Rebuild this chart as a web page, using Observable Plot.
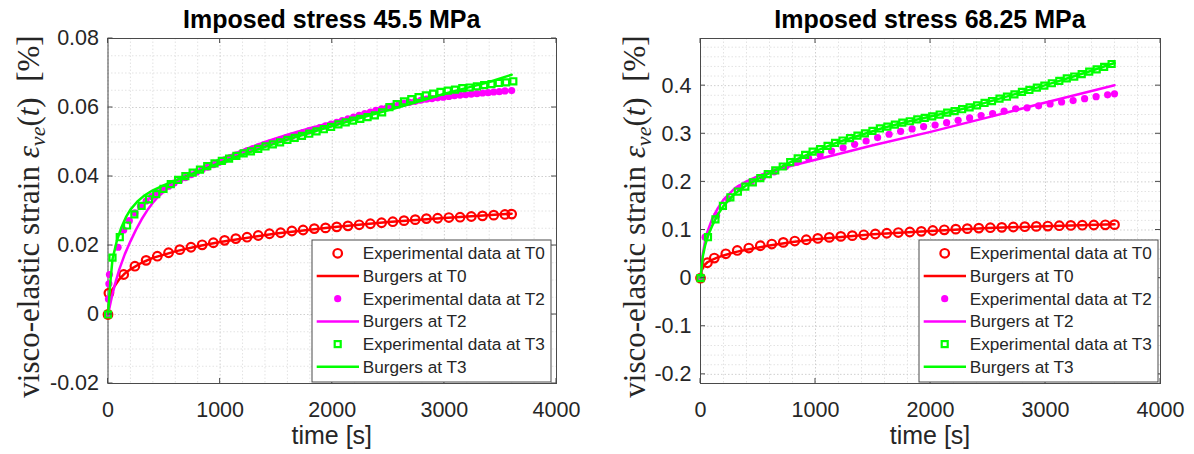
<!DOCTYPE html>
<html><head><meta charset="utf-8">
<script src="https://cdn.jsdelivr.net/npm/d3@7"></script>
<script src="https://cdn.jsdelivr.net/npm/@observablehq/plot@0.6"></script>
<style>
body{margin:0;background:#fff;}
#wrap{display:flex;width:1194px;height:454px;overflow:hidden;}
</style></head><body><div id="wrap"></div>
<script>
// ---------- shared ticks / labels ----------
const xTicks = [0, 1000, 2000, 3000, 4000];
const xTickLabels = ["0", "1000", "2000", "3000", "4000"];
const xMinorTicks = [200, 400, 600, 800, 1200, 1400, 1600, 1800, 2200, 2400, 2600, 2800, 3200, 3400, 3600, 3800];
const xLabel = "time [s]";
const yLabelMain = "visco-elastic strain ";
const legendLabels = ["Experimental data at T0", "Burgers at T0", "Experimental data at T2", "Burgers at T2", "Experimental data at T3", "Burgers at T3"];

// ---------- left panel: 45.5 MPa ----------
const leftTitle = "Imposed stress 45.5 MPa";
const leftYTicks = [-0.02, 0, 0.02, 0.04, 0.06, 0.08];
const leftYTickLabels = ["-0.02", "0", "0.02", "0.04", "0.06", "0.08"];
const leftYMinorTicks = [-0.015, -0.01, -0.005, 0.005, 0.01, 0.015, 0.025, 0.03, 0.035, 0.045, 0.05, 0.055, 0.065, 0.07, 0.075];

const leftT0ExpTime = [0, 8, 140, 240, 340, 440, 540, 640, 740, 840, 940, 1040, 1140, 1240, 1340, 1440, 1540, 1640, 1740, 1840, 1940, 2040, 2140, 2240, 2340, 2440, 2540, 2640, 2740, 2840, 2940, 3040, 3140, 3240, 3340, 3440, 3540, 3600];
const leftT0ExpStrain = [0, 0.0062, 0.0116, 0.0140, 0.0157, 0.0169, 0.0179, 0.0188, 0.0195, 0.0202, 0.0208, 0.0215, 0.0220, 0.0224, 0.0229, 0.0234, 0.0237, 0.0242, 0.0245, 0.0249, 0.0251, 0.0254, 0.0257, 0.0260, 0.0263, 0.0266, 0.0269, 0.0272, 0.0275, 0.0278, 0.0279, 0.0281, 0.0282, 0.0284, 0.0286, 0.0288, 0.0290, 0.0291];
const leftT0BurgersTime = [0, 20, 50, 100, 150, 200, 300, 400, 600, 800, 1000, 1500, 2000, 2500, 3000, 3600];
const leftT0BurgersStrain = [0, 0.0055, 0.0078, 0.0102, 0.0119, 0.0131, 0.0150, 0.0164, 0.0183, 0.0198, 0.0210, 0.0235, 0.0253, 0.0268, 0.0280, 0.0292];

const leftT2ExpTime = [0, 4, 8, 13, 90, 140, 190, 240, 290, 340, 390, 440, 490, 540, 590, 640, 690, 740, 790, 840, 890, 940, 990, 1040, 1090, 1140, 1190, 1240, 1290, 1340, 1390, 1440, 1490, 1540, 1590, 1640, 1690, 1740, 1790, 1840, 1890, 1940, 1990, 2040, 2090, 2140, 2190, 2240, 2290, 2340, 2390, 2440, 2490, 2540, 2590, 2640, 2690, 2740, 2790, 2840, 2890, 2940, 2990, 3040, 3090, 3140, 3190, 3240, 3290, 3340, 3390, 3440, 3490, 3540, 3600];
const leftT2ExpStrain = [0, 0.0045, 0.0089, 0.0116, 0.0195, 0.0245, 0.0272, 0.0295, 0.0314, 0.0329, 0.0342, 0.0353, 0.0363, 0.0372, 0.0381, 0.0389, 0.0397, 0.0405, 0.0413, 0.0420, 0.0427, 0.0434, 0.0441, 0.0448, 0.0455, 0.0462, 0.0468, 0.0474, 0.0480, 0.0486, 0.0492, 0.0497, 0.0502, 0.0507, 0.0512, 0.0517, 0.0522, 0.0527, 0.0532, 0.0537, 0.0542, 0.0547, 0.0552, 0.0557, 0.0562, 0.0567, 0.0572, 0.0577, 0.0582, 0.0587, 0.0592, 0.0596, 0.0600, 0.0604, 0.0608, 0.0612, 0.0615, 0.0618, 0.0621, 0.0624, 0.0626, 0.0628, 0.0630, 0.0632, 0.0634, 0.0636, 0.0637, 0.0639, 0.0640, 0.0642, 0.0643, 0.0645, 0.0646, 0.0648, 0.0649];
const leftT2BurgersTime = [0, 30, 60, 100, 150, 200, 250, 300, 350, 400, 450, 500, 600, 800, 1000, 1200, 1400, 1600, 1800, 2000, 2200, 2400, 2600, 2800, 3000, 3200, 3400, 3600];
const leftT2BurgersStrain = [0, 0.0045, 0.0085, 0.0130, 0.0175, 0.0212, 0.0246, 0.0276, 0.0302, 0.0324, 0.0342, 0.0357, 0.0382, 0.0418, 0.0449, 0.0476, 0.0500, 0.0521, 0.0540, 0.0557, 0.0574, 0.0590, 0.0604, 0.0617, 0.0628, 0.0636, 0.0643, 0.0650];

const leftT3ExpTime = [0, 40, 105, 170, 235, 300, 365, 430, 495, 560, 625, 690, 755, 820, 885, 950, 1015, 1080, 1145, 1210, 1275, 1340, 1405, 1470, 1535, 1600, 1665, 1730, 1795, 1860, 1925, 1990, 2055, 2120, 2185, 2250, 2315, 2380, 2445, 2510, 2575, 2640, 2705, 2770, 2835, 2900, 2965, 3030, 3095, 3160, 3225, 3290, 3355, 3420, 3485, 3550, 3615];
const leftT3ExpStrain = [0, 0.0165, 0.0224, 0.0258, 0.0290, 0.0315, 0.0334, 0.0349, 0.0364, 0.0378, 0.0390, 0.0401, 0.0411, 0.0420, 0.0430, 0.0438, 0.0445, 0.0452, 0.0460, 0.0467, 0.0473, 0.0480, 0.0487, 0.0493, 0.0499, 0.0506, 0.0512, 0.0518, 0.0524, 0.0531, 0.0537, 0.0544, 0.0551, 0.0557, 0.0562, 0.0567, 0.0572, 0.0577, 0.0586, 0.0601, 0.0610, 0.0618, 0.0624, 0.0630, 0.0635, 0.0640, 0.0645, 0.0649, 0.0652, 0.0656, 0.0658, 0.0661, 0.0665, 0.0668, 0.0671, 0.0673, 0.0676];
const leftT3BurgersTime = [0, 20, 40, 80, 120, 160, 200, 260, 320, 400, 500, 600, 800, 1000, 1200, 1400, 1600, 1800, 2000, 2200, 2400, 2600, 2800, 3000, 3200, 3400, 3600];
const leftT3BurgersStrain = [0, 0.0090, 0.0160, 0.0215, 0.0253, 0.0282, 0.0304, 0.0327, 0.0344, 0.0360, 0.0375, 0.0388, 0.0414, 0.0440, 0.0463, 0.0486, 0.0507, 0.0527, 0.0546, 0.0565, 0.0583, 0.0601, 0.0620, 0.0640, 0.0657, 0.0674, 0.0695];

// ---------- right panel: 68.25 MPa ----------
const rightTitle = "Imposed stress 68.25 MPa";
const rightYTicks = [-0.2, -0.1, 0, 0.1, 0.2, 0.3, 0.4];
const rightYTickLabels = ["-0.2", "-0.1", "0", "0.1", "0.2", "0.3", "0.4"];
const rightYMinorTicks = [-0.18, -0.16, -0.14, -0.12, -0.08, -0.06, -0.04, -0.02, 0.02, 0.04, 0.06, 0.08, 0.12, 0.14, 0.16, 0.18, 0.22, 0.24, 0.26, 0.28, 0.32, 0.34, 0.36, 0.38, 0.42, 0.44, 0.46, 0.48];

const rightT0ExpTime = [0, 60, 120, 220, 320, 420, 520, 620, 720, 820, 920, 1020, 1120, 1220, 1320, 1420, 1520, 1620, 1720, 1820, 1920, 2020, 2120, 2220, 2320, 2420, 2520, 2620, 2720, 2820, 2920, 3020, 3120, 3220, 3320, 3420, 3520, 3600];
const rightT0ExpStrain = [0, 0.032, 0.0417, 0.0506, 0.0575, 0.0625, 0.0673, 0.0708, 0.0742, 0.0771, 0.0798, 0.0825, 0.0846, 0.0867, 0.0883, 0.0900, 0.0917, 0.0933, 0.0947, 0.0959, 0.0972, 0.0990, 0.1004, 0.1018, 0.1028, 0.1040, 0.1048, 0.1055, 0.1062, 0.1069, 0.1075, 0.1082, 0.1089, 0.1095, 0.1100, 0.1104, 0.1108, 0.1111];
const rightT0BurgersTime = [0, 10, 30, 60, 100, 150, 200, 300, 400, 600, 800, 1000, 1500, 2000, 2500, 3000, 3600];
const rightT0BurgersStrain = [0, 0.016, 0.026, 0.033, 0.038, 0.043, 0.047, 0.054, 0.059, 0.068, 0.075, 0.081, 0.091, 0.098, 0.104, 0.108, 0.112];

const rightT2ExpTime = [0, 40, 140, 240, 340, 440, 540, 640, 740, 840, 940, 1040, 1140, 1240, 1340, 1440, 1540, 1640, 1740, 1840, 1940, 2040, 2140, 2240, 2340, 2440, 2540, 2640, 2740, 2840, 2940, 3040, 3140, 3240, 3340, 3440, 3540, 3600];
const rightT2ExpStrain = [0, 0.085, 0.130, 0.165, 0.187, 0.200, 0.210, 0.221, 0.232, 0.241, 0.249, 0.256, 0.264, 0.271, 0.278, 0.285, 0.292, 0.299, 0.305, 0.310, 0.315, 0.318, 0.323, 0.328, 0.333, 0.338, 0.342, 0.347, 0.352, 0.354, 0.358, 0.362, 0.366, 0.369, 0.373, 0.377, 0.381, 0.383];
const rightT2BurgersTime = [0, 20, 50, 100, 150, 200, 300, 400, 500, 600, 800, 1000, 1200, 1500, 2000, 2500, 3000, 3600];
const rightT2BurgersStrain = [0, 0.050, 0.090, 0.122, 0.145, 0.163, 0.187, 0.201, 0.212, 0.221, 0.234, 0.246, 0.258, 0.276, 0.304, 0.334, 0.365, 0.401];

const rightT3ExpTime = [0, 65, 130, 195, 260, 325, 390, 455, 520, 585, 650, 715, 780, 845, 910, 975, 1040, 1105, 1170, 1235, 1300, 1365, 1430, 1495, 1560, 1625, 1690, 1755, 1820, 1885, 1950, 2015, 2080, 2145, 2210, 2275, 2340, 2405, 2470, 2535, 2600, 2665, 2730, 2795, 2860, 2925, 2990, 3055, 3120, 3185, 3250, 3315, 3380, 3445, 3510, 3575];
const rightT3ExpStrain = [0, 0.085, 0.122, 0.150, 0.168, 0.180, 0.190, 0.199, 0.208, 0.216, 0.224, 0.232, 0.241, 0.249, 0.256, 0.263, 0.268, 0.275, 0.281, 0.286, 0.291, 0.296, 0.301, 0.306, 0.311, 0.315, 0.319, 0.323, 0.326, 0.330, 0.333, 0.336, 0.340, 0.344, 0.347, 0.351, 0.355, 0.359, 0.364, 0.368, 0.373, 0.377, 0.382, 0.387, 0.391, 0.396, 0.400, 0.405, 0.410, 0.415, 0.419, 0.424, 0.429, 0.434, 0.439, 0.445];
const rightT3BurgersTime = [0, 20, 40, 65, 100, 150, 200, 300, 400, 500, 600, 800, 1000, 1200, 1400, 1600, 1800, 2000, 2200, 2400, 2600, 2800, 3000, 3200, 3400, 3600];
const rightT3BurgersStrain = [0, 0.045, 0.068, 0.088, 0.108, 0.132, 0.150, 0.176, 0.193, 0.206, 0.218, 0.243, 0.264, 0.283, 0.298, 0.313, 0.325, 0.336, 0.347, 0.359, 0.373, 0.387, 0.401, 0.416, 0.431, 0.447];

// ---------- styling ----------
const RED = "#ff0000", MAG = "#ff00ff", GRN = "#00ff00";
const TXT = "#262626";
const SANS = "'Liberation Sans', Arial, Helvetica, sans-serif";
const SERIF = "'Liberation Serif', 'Times New Roman', serif";
const R_CIRCLE = 4.3, R_DOT = 3.6, R_SQUARE = 3.4, SQ = 6;

const rows = (t, v) => t.map((d, i) => ({t: d, v: v[i]}));

function panel(cfg) {
  const W = cfg.width, H = 454, mt = 38, mb = 71;
  const xMap = new Map(xTicks.map((d, i) => [d, xTickLabels[i]]));
  const yMap = new Map(cfg.yTicks.map((d, i) => [d, cfg.yTickLabels[i]]));
  const grid = {strokeOpacity: 1, strokeDasharray: "1.5,2", strokeWidth: 1};
  const chart = Plot.plot({
    width: W, height: H,
    marginLeft: cfg.ml, marginRight: cfg.mr, marginTop: mt, marginBottom: mb,
    style: {fontFamily: SANS, fontSize: "21.5px", background: "#fff", overflow: "visible"},
    x: {domain: [0, 4000]},
    y: {domain: cfg.yDomain},
    marks: [
      Plot.gridX(xMinorTicks, {...grid, stroke: "#e3e3e3"}),
      Plot.gridY(cfg.yMinor, {...grid, stroke: "#e3e3e3"}),
      Plot.gridX(xTicks, {...grid, stroke: "#cfcfcf"}),
      Plot.gridY(cfg.yTicks, {...grid, stroke: "#cfcfcf"}),
      Plot.frame({stroke: "#4a4a4a", strokeWidth: 1}),
      Plot.axisX(xTicks, {tickSize: 0, tickPadding: 18, tickFormat: d => xMap.get(d), label: null, color: TXT, fontSize: 21.5}),
      Plot.axisY(cfg.yTicks, {tickSize: 0, tickPadding: 9, tickFormat: d => yMap.get(d), label: null, color: TXT, fontSize: 21.5}),
      Plot.dot(rows(cfg.t0e[0], cfg.t0e[1]), {x: "t", y: "v", r: R_CIRCLE, stroke: RED, strokeWidth: 2.2, fill: "none"}),
      Plot.line(rows(cfg.t0b[0], cfg.t0b[1]), {x: "t", y: "v", stroke: RED, strokeWidth: 2.5}),
      Plot.dot(rows(cfg.t2e[0], cfg.t2e[1]), {x: "t", y: "v", r: R_DOT, fill: MAG, stroke: "none"}),
      Plot.line(rows(cfg.t2b[0], cfg.t2b[1]), {x: "t", y: "v", stroke: MAG, strokeWidth: 2.5}),
      Plot.dot(rows(cfg.t3e[0], cfg.t3e[1]), {x: "t", y: "v", symbol: "square", r: R_SQUARE, stroke: GRN, strokeWidth: 2.2, fill: "none"}),
      Plot.line(rows(cfg.t3b[0], cfg.t3b[1]), {x: "t", y: "v", stroke: GRN, strokeWidth: 2.5})
    ]
  });
  const svg = d3.select(chart);
  const sx = chart.scale("x"), sy = chart.scale("y");
  const L = cfg.ml, R = W - cfg.mr, T = mt, B = H - mb;
  const tk = svg.append("g").attr("stroke", "#4a4a4a").attr("stroke-width", 1);
  xTicks.forEach(v => {
    const x = sx.apply(v);
    tk.append("line").attr("x1", x).attr("x2", x).attr("y1", B).attr("y2", B - 5);
    tk.append("line").attr("x1", x).attr("x2", x).attr("y1", T).attr("y2", T + 5);
  });
  cfg.yTicks.forEach(v => {
    const y = sy.apply(v);
    tk.append("line").attr("x1", L).attr("x2", L + 5).attr("y1", y).attr("y2", y);
    tk.append("line").attr("x1", R).attr("x2", R - 5).attr("y1", y).attr("y2", y);
  });
  // title
  svg.append("text").attr("x", (L + R) / 2).attr("y", 28).attr("text-anchor", "middle")
    .style("font-family", SANS).style("font-size", "25px").style("font-weight", "bold").attr("fill", "#000")
    .text(cfg.title);
  // x label
  svg.append("text").attr("x", (L + R) / 2).attr("y", 444).attr("text-anchor", "middle")
    .style("font-family", SANS).style("font-size", "25px").attr("fill", TXT).text(xLabel);
  // y label
  const yl = svg.append("text").attr("transform", `translate(${cfg.ylx},${(T + B) / 2 + 6}) rotate(-90)`)
    .attr("text-anchor", "middle").style("font-family", SERIF).style("font-size", "31px").attr("fill", TXT);
  yl.append("tspan").text(yLabelMain);
  yl.append("tspan").style("font-style", "italic").text("\u03B5");
  yl.append("tspan").style("font-style", "italic").style("font-size", "22px").attr("dy", 6).text("ve");
  yl.append("tspan").attr("dy", -6).text("(");
  yl.append("tspan").style("font-style", "italic").text("t");
  yl.append("tspan").text(")\u2002[%]");
  // legend
  const lg = svg.append("g").attr("transform", `translate(${cfg.lgx},${cfg.lgy})`);
  lg.append("rect").attr("width", 239).attr("height", 142).attr("fill", "#fff").attr("stroke", "#4a4a4a").attr("stroke-width", 1);
  const kinds = [["circle", RED], ["line", RED], ["dot", MAG], ["line", MAG], ["square", GRN], ["line", GRN]];
  kinds.forEach(([k, c], i) => {
    const y = 13.3 + 22.7 * i;
    if (k === "line") lg.append("line").attr("x1", 4.7).attr("x2", 47).attr("y1", y).attr("y2", y).attr("stroke", c).attr("stroke-width", 2.5);
    if (k === "circle") lg.append("circle").attr("cx", 25.7).attr("cy", y).attr("r", R_CIRCLE).attr("fill", "none").attr("stroke", c).attr("stroke-width", 2.2);
    if (k === "dot") lg.append("circle").attr("cx", 25.7).attr("cy", y).attr("r", R_DOT).attr("fill", c);
    if (k === "square") lg.append("rect").attr("x", 25.7 - SQ / 2).attr("y", y - SQ / 2).attr("width", SQ).attr("height", SQ).attr("fill", "none").attr("stroke", c).attr("stroke-width", 2.2);
    lg.append("text").attr("x", 50.7).attr("y", y).attr("dy", "0.35em").attr("text-anchor", "start")
      .style("font-family", SANS).style("font-size", "17.2px").attr("fill", TXT).text(legendLabels[i]);
  });
  return chart;
}

const wrap = document.getElementById("wrap");
wrap.appendChild(panel({
  width: 597, ml: 107.5, mr: 41, yDomain: [-0.02, 0.08],
  yTicks: leftYTicks, yTickLabels: leftYTickLabels, yMinor: leftYMinorTicks,
  title: leftTitle, ylx: 39, lgx: 312, lgy: 240,
  t0e: [leftT0ExpTime, leftT0ExpStrain], t0b: [leftT0BurgersTime, leftT0BurgersStrain],
  t2e: [leftT2ExpTime, leftT2ExpStrain], t2b: [leftT2BurgersTime, leftT2BurgersStrain],
  t3e: [leftT3ExpTime, leftT3ExpStrain], t3b: [leftT3BurgersTime, leftT3BurgersStrain]
}));
wrap.appendChild(panel({
  width: 597, ml: 103, mr: 34, yDomain: [-0.219, 0.498],
  yTicks: rightYTicks, yTickLabels: rightYTickLabels, yMinor: rightYMinorTicks,
  title: rightTitle, ylx: 48, lgx: 322, lgy: 240,
  t0e: [rightT0ExpTime, rightT0ExpStrain], t0b: [rightT0BurgersTime, rightT0BurgersStrain],
  t2e: [rightT2ExpTime, rightT2ExpStrain], t2b: [rightT2BurgersTime, rightT2BurgersStrain],
  t3e: [rightT3ExpTime, rightT3ExpStrain], t3b: [rightT3BurgersTime, rightT3BurgersStrain]
}));
</script></body></html>
